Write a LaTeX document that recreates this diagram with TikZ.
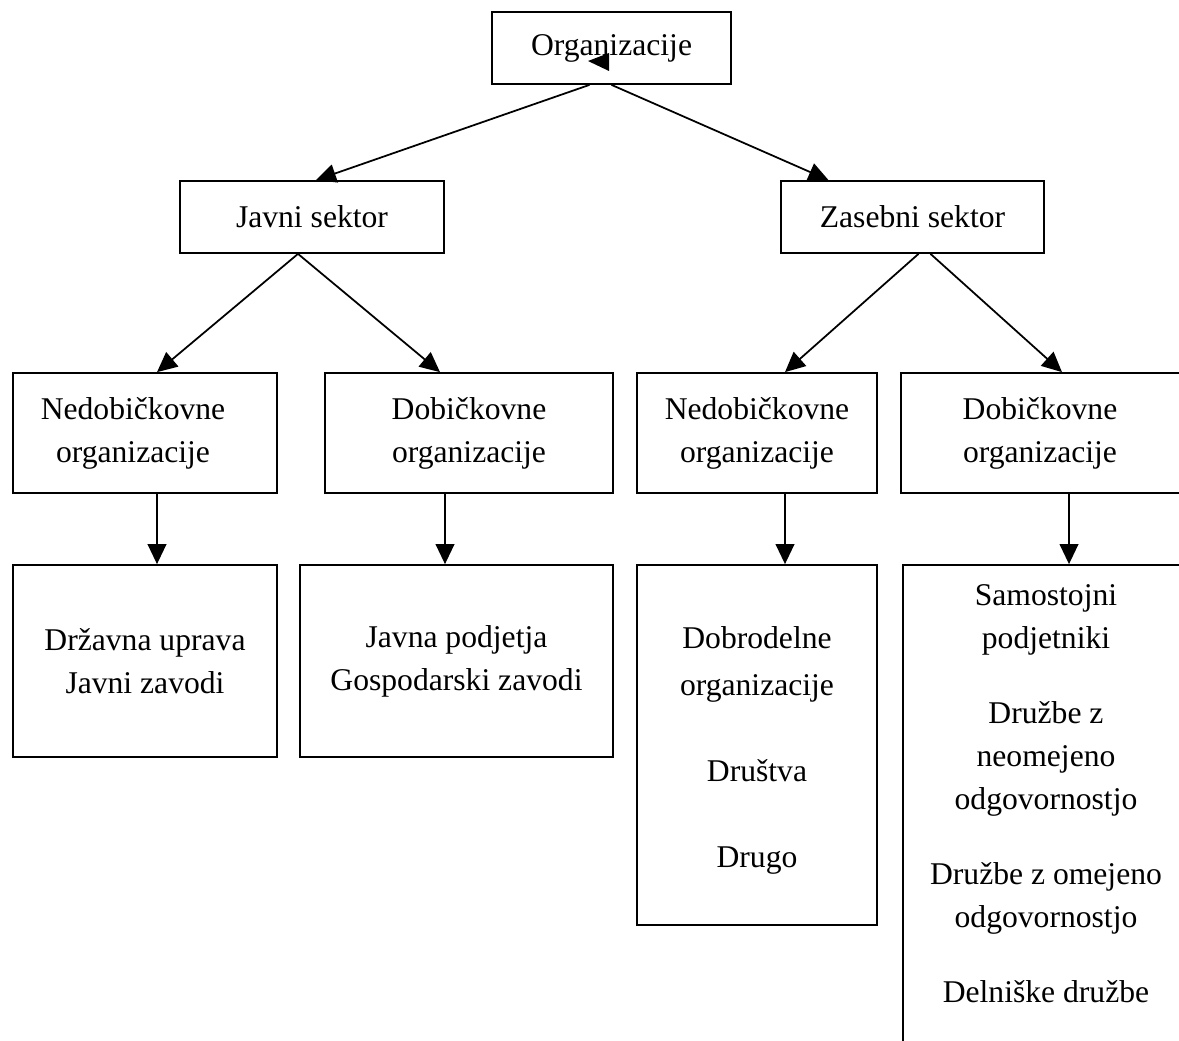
\documentclass[tikz,border=0pt]{standalone}
\usepackage{fontspec}
\setmainfont{Liberation Serif}
\usetikzlibrary{arrows.meta,calc}

\tikzset{
  box/.style={draw, line width=1.5pt, align=center, inner sep=0pt,
    font=\fontsize{27pt}{36.7pt}\selectfont},
  txt/.style={align=center, inner sep=0pt, font=\fontsize{27pt}{36.7pt}\selectfont},
  arr/.style={-{Triangle[length=0.6cm,width=0.56cm]}, line width=1.5pt},
}

\begin{document}
\begin{tikzpicture}[x=0.03cm,y=-0.03cm]
  \useasboundingbox (0,0) rectangle (1179,1041);
  \clip (0,0) rectangle (1179,1041);

  % top
  \node[box, minimum width=7.17cm, minimum height=2.16cm] at (611.5,48) (org) {Organizacije};
  \node[box, minimum width=7.92cm, minimum height=2.16cm] at (312,217) (javni) {Javni sektor};
  \node[box, minimum width=7.89cm, minimum height=2.16cm] at (912.5,217) (zas) {Zasebni sektor};

  % second level
  \node[box, minimum width=7.92cm, minimum height=3.6cm] at (145,433) (nedobL) {Nedobičkovne\hspace*{0.72cm}\\organizacije\hspace*{0.72cm}};
  \node[box, minimum width=8.64cm, minimum height=3.6cm] at (469,433) (dobL) {Dobičkovne\\organizacije};
  \node[box, minimum width=7.2cm, minimum height=3.6cm] at (757,433) (nedobR) {Nedobičkovne\\organizacije};
  \node[box, minimum width=8.64cm, minimum height=3.6cm] at (1045,433) (dobR) {Dobičkovne\hspace*{0.3cm}\\organizacije\hspace*{0.3cm}};

  % third level
  \node[box, minimum width=7.92cm, minimum height=5.76cm] at (145,661) (drz) {Državna uprava\\Javni zavodi};
  \node[box, minimum width=9.39cm, minimum height=5.76cm] at (456.5,661) (jp) {Javna podjetja\\Gospodarski zavodi};
  \node[box, minimum width=7.2cm, minimum height=10.8cm] at (757,745) (dobr) {\rule{0pt}{1.0cm}Dobrodelne\\[0.12cm]organizacije\\[1.29cm]Društva\\[1.29cm]Drugo};
  \node[box, minimum width=8.58cm, minimum height=14.85cm] at (1046,812.5) (sam) {};
  \node[txt, anchor=north] at ($(sam.north)+(0,20)$) (samtxt) {Samostojni\\podjetniki\\[0.96cm]Družbe z\\neomejeno\\odgovornostjo\\[0.96cm]Družbe z omejeno\\odgovornostjo\\[0.96cm]Delniške družbe};

  \draw[arr] ($(org.south)+(-22,0)$) -- ($(javni.north)+(4,0)$);
  \draw[arr] (org.south) -- ($(zas.north)+(-84,0)$);
  \draw[arr] ($(javni.south)+(-14,0)$) -- ($(nedobL.north)+(12,0)$);
  \draw[arr] ($(javni.south)+(-14,0)$) -- ($(dobL.north)+(-29,0)$);
  \draw[arr] ($(zas.south)+(6,0)$) -- ($(nedobR.north)+(28,0)$);
  \draw[arr] ($(zas.south)+(18,0)$) -- ($(dobR.north)+(17,0)$);

  \draw[arr] ($(nedobL.south)+(12,0)$) -- ($(drz.north)+(12,0)$);
  \draw[arr] ($(dobL.south)+(-24,0)$) -- ($(jp.north)+(-11.5,0)$);
  \draw[arr] ($(nedobR.south)+(28,0)$) -- ($(dobr.north)+(28,0)$);
  \draw[arr] ($(dobR.south)+(24,0)$) -- ($(sam.north)+(23,0)$);

  % stray tip inside the top box
  \fill (588,61) -- (609,53) -- (609,71) -- cycle;
\end{tikzpicture}
\end{document}
